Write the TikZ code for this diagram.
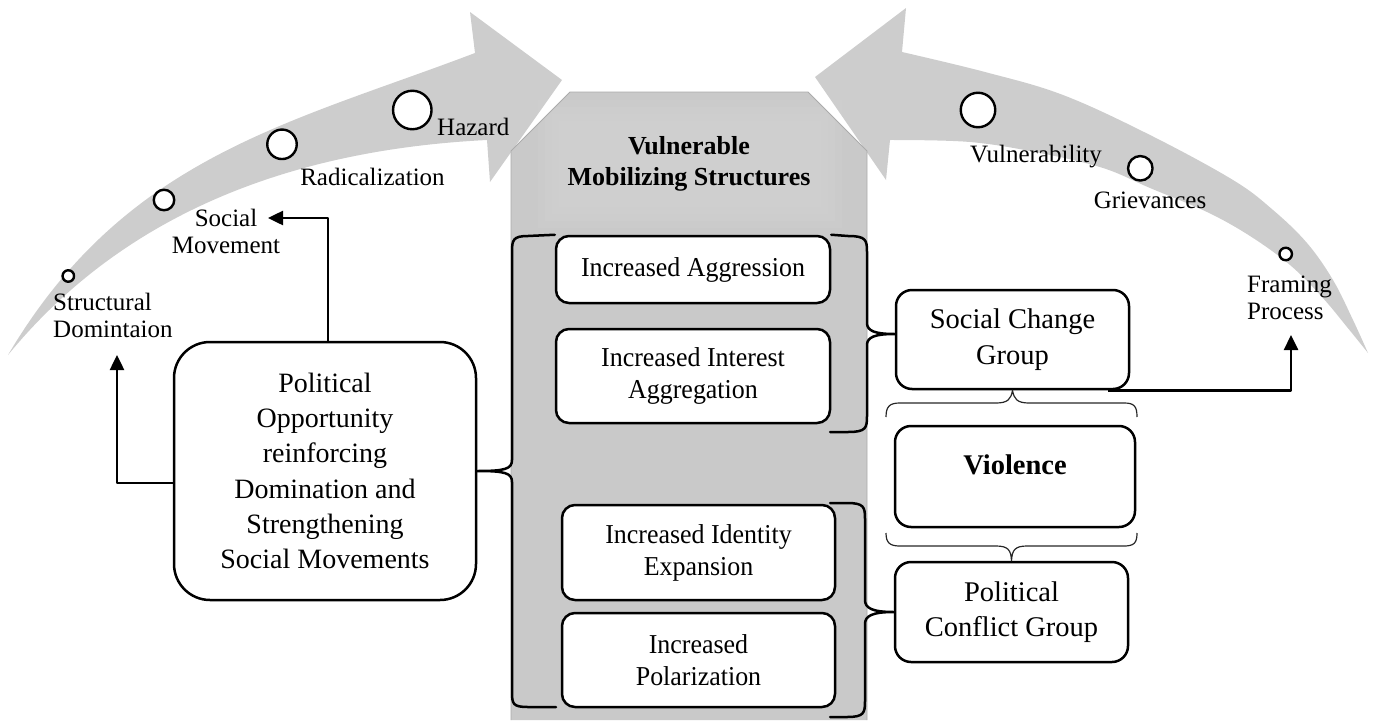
\documentclass[tikz,border=0pt]{standalone}
\usepackage{fontspec}
\setmainfont{Liberation Serif}
\newfontfamily\narrowserif{Liberation Serif}[FakeStretch=0.95]
\usetikzlibrary{arrows.meta,calc}
\definecolor{bandgray}{HTML}{CDCDCD}
\definecolor{colgray}{HTML}{C9C9C9}
\definecolor{coledge}{HTML}{ABABAB}
\tikzset{
  box/.style={draw, line width=2.5pt, fill=white, rounded corners=13pt,
    align=center, inner sep=0pt},
  midbox/.style={box, minimum width=274pt,
    font=\narrowserif\fontsize{27.3}{32}\selectfont},
  sidebox/.style={box, rounded corners=16pt, font=\fontsize{28.5}{35.5}\selectfont},
  dot/.style={circle, draw, fill=white, line width=2.4pt, inner sep=0pt},
  lab/.style={inner sep=0pt, font=\fontsize{25}{27}\selectfont},
  arr/.style={line width=2.5pt, -{Triangle[length=15pt,width=14pt]}},
  bigbrace/.style={line width=2.5pt, line cap=round},
  thinbrace/.style={line width=1.2pt, draw=black!85},
}
\begin{document}
\begin{tikzpicture}[x=1pt, y=-1pt, line join=round]
\useasboundingbox (0,0) rectangle (1373,720);

% curved band rising to the right
\fill[bandgray] (8,355) .. controls (125,157) and (288,124) .. (475,53)
  -- (470,12) -- (562,80) -- (490,182) -- (487,140)
  .. controls (287,150) and (122,216) .. (8,355) -- cycle;

% curved band falling to the right, pointing left
\fill[bandgray] (902,52) -- (906,8) -- (815,77) -- (886,180) -- (890,140)
  -- plot[smooth, tension=0.6] coordinates {(890,140) (970,142) (1040,153)
     (1103,168) (1150,188) (1207,212) (1250,236) (1290,265) (1322,297)
     (1347,327) (1368,353)}
  -- plot[smooth, tension=0.6] coordinates {(1368,353) (1353,320) (1333,280)
     (1307,243) (1273,210) (1233,180) (1150,135) (1063,95) (985,72) (902,52)}
  -- cycle;

% central column
\fill[colgray] (511,720) -- (511,151) -- (570,92) -- (808,92) -- (867,151)
  -- (867,720) -- cycle;
\foreach \i in {0,7,14,21}
  \fill[white, opacity=0.04] (538+\i,100+\i) rectangle (842-\i,228-\i);
\draw[coledge, line width=0.8pt] (511,720) -- (511,151) -- (570,92)
  -- (808,92) -- (867,151) -- (867,720);

\node[inner sep=0pt, align=center, font=\bfseries\fontsize{26}{31}\selectfont]
  (vms) at (689,163.4) {Vulnerable\\Mobilizing Structures};

% boxes inside the column
\node[midbox, minimum height=67pt] (agg) at (693,269.5) {Increased Aggression};
\node[midbox, minimum height=94pt] (int) at (693,376) {Increased Interest\\Aggregation};
\node[midbox, minimum width=273pt, minimum height=95pt] (ide) at (698.5,552.5) {Increased Identity\\Expansion};
\node[midbox, minimum width=273pt, minimum height=94pt] (plr) at (698.5,660) {Increased\\Polarization};

% left box
\node[box, rounded corners=36pt, minimum width=302pt, minimum height=258pt,
  font=\fontsize{28}{35.2}\selectfont] (pol) at (325,471)
  {Political\\Opportunity\\reinforcing\\Domination and\\Strengthening\\Social Movements};

% right boxes
\node[sidebox, minimum width=233pt, minimum height=99pt] (scg) at (1012.5,339.5) {Social Change\\Group};
\node[sidebox, minimum width=240pt, minimum height=101pt] (vio) at (1015,476.5) {};
\node[inner sep=0pt, font=\bfseries\fontsize{28.5}{34}\selectfont] (viot) at (1015,465.3) {Violence};
\node[sidebox, minimum width=233pt, minimum height=100pt] (pcg) at (1011.5,612) {Political\\Conflict Group};

% braces
\draw[bigbrace] (agg.north west) -- (528,236) .. controls (513,236) and (512,240) .. (512,252)
  -- (512,460) .. controls (512,469) and (505,471) .. (pol.east)
  .. controls (505,471) and (512,473) .. (512,482)
  -- (512,692) .. controls (512,704) and (513,707) .. (528,707) -- (556,707);
\draw[bigbrace] (agg.north east) -- (848,236) .. controls (866,236) and (867,240) .. (867,252)
  -- (867,323) .. controls (867,331) and (875,334) .. (scg.west |- 0,334)
  .. controls (875,334) and (867,337) .. (867,345)
  -- (867,416) .. controls (867,428) and (866,432) .. (848,432) -- (830,432);
\draw[bigbrace] (830,503) -- (847,503) .. controls (864,503) and (865,507) .. (865,519)
  -- (865,600) .. controls (865,608) and (872,612) .. (pcg.west)
  .. controls (872,612) and (865,616) .. (865,624)
  -- (865,701) .. controls (865,713) and (864,717) .. (847,717) -- (830,717);
\draw[thinbrace] (886,417) .. controls (886,406) and (890,403) .. (900,403) -- (996,403)
  .. controls (1008,403) and (1011,399) .. (scg.south)
  .. controls (1014,399) and (1017,403) .. (1029,403) -- (1124,403)
  .. controls (1134,403) and (1137,406) .. (1137,417);
\draw[thinbrace] (886,533) .. controls (886,543) and (890,546) .. (900,546) -- (996,546)
  .. controls (1008,546) and (1011,550) .. (pcg.north)
  .. controls (1012,550) and (1015,546) .. (1027,546) -- (1124,546)
  .. controls (1134,546) and (1137,543) .. (1137,533);

% stage markers on the bands
\node[dot, minimum size=11.5pt] (c1) at (68.3,276) {};
\node[dot, minimum size=20.5pt] (c2) at (164,200) {};
\node[dot, minimum size=29.5pt] (c3) at (282,144.3) {};
\node[dot, minimum size=38.5pt] (c4) at (412.3,110) {};
\node[dot, minimum size=34.5pt] (v1) at (978,110) {};
\node[dot, minimum size=24.5pt] (v2) at (1140.3,168.3) {};
\node[dot, minimum size=12.5pt] (v3) at (1285.7,254) {};

\node[lab, anchor=base west] (hz) at (437,135) {Hazard};
\node[lab, anchor=base] (rad) at (372.5,185) {Radicalization};
\node[lab, align=center] (sm) at (226,231) {Social\\Movement};
\node[lab, align=left, anchor=west] (sd) at (53,315) {Structural\\Domintaion};
\node[lab, anchor=base] (vul) at (1036,162) {Vulnerability};
\node[lab, anchor=base] (grv) at (1150,208) {Grievances};
\node[lab, align=left, anchor=west] (fp) at (1247,298) {Framing\\Process};

% elbow arrows
\coordinate (smend) at (268,218);
\coordinate (sdend) at (117,355);
\coordinate (fpend) at (1291,335);
\draw[arr] ([xshift=3pt]pol.north) |- (smend);
\draw[arr] ([yshift=-12pt]pol.west) -| (sdend);
\draw[arr] ([xshift=-22pt]scg.south east) -| (fpend);
\end{tikzpicture}
\end{document}
